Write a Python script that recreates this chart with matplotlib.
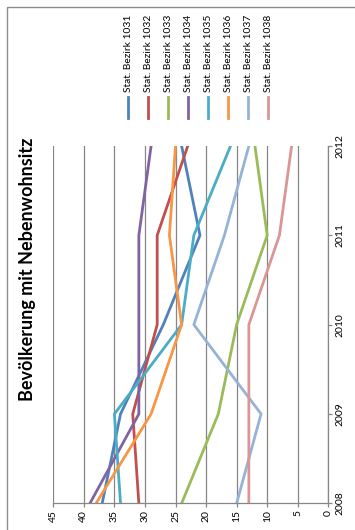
import matplotlib
matplotlib.use("Agg")
import matplotlib.pyplot as plt
from matplotlib.lines import Line2D
from matplotlib.patches import Rectangle

W, H = 355, 530

years = [2008, 2009, 2010, 2011, 2012]
series_names = ["Stat. Bezirk 1031", "Stat. Bezirk 1032", "Stat. Bezirk 1033",
                "Stat. Bezirk 1034", "Stat. Bezirk 1035", "Stat. Bezirk 1036",
                "Stat. Bezirk 1037", "Stat. Bezirk 1038"]
colors = ["#4F81BD", "#C0504D", "#9BBB59", "#8064A2", "#4BACC6", "#F79646",
          "#95B3D7", "#D99694"]
b1031 = [37, 34, 27, 21, 24]
b1032 = [31, 32, 28, 28, 23]
b1033 = [24, 18, 15, 10, 12]
b1034 = [39, 31, 31, 31, 29]
b1035 = [34, 35, 24, 22, 16]
b1036 = [38, 29, 24, 26, 25]
b1037 = [15, 11, 22, 17, 13]
b1038 = [13, 13, 13, 8, 6]
series = [b1031, b1032, b1033, b1034, b1035, b1036, b1037, b1038]
value_ticks = [0, 5, 10, 15, 20, 25, 30, 35, 40, 45]
title = "Bevölkerung mit Nebenwohnsitz"

FONT = ["Lato", "DejaVu Sans"]
plt.rcParams["font.family"] = FONT

fig = plt.figure(figsize=(W / 100, H / 100), dpi=100)


def fx(px):
    return px / W


def fy(py):
    return 1 - py / H


# chart border (cut off at right/bottom)
fig.add_artist(Rectangle((fx(7), fy(540)), fx(360), fy(7) - fy(540),
                         transform=fig.transFigure, fill=False,
                         edgecolor="#8c8c8c", lw=1.0))

left, right, top, bottom = 53.3, 328.3, 146, 503.3
ax = fig.add_axes([fx(left), fy(bottom), fx(right - left), fy(top) - fy(bottom)])

for vals, c in zip(series, colors):
    ax.plot(vals, years, color=c, lw=2.0, solid_joinstyle="miter")

ax.set_xlim(45, 0)
ax.set_ylim(2008, 2012)
ax.set_xticks(value_ticks)
ax.set_xticklabels([str(v) for v in value_ticks], rotation=90, fontsize=7.5)
ax.set_yticks(years)
ax.yaxis.tick_right()
ax.set_yticklabels([str(y) for y in years], rotation=90, va="center", fontsize=7.5)
ax.grid(axis="x", color="#868686", lw=0.9)
ax.set_axisbelow(True)
for s in ["top", "left"]:
    ax.spines[s].set_visible(False)
for s in ["bottom", "right"]:
    ax.spines[s].set_color("#868686")
    ax.spines[s].set_linewidth(0.9)
ax.tick_params(axis="both", color="#868686", length=3, width=0.9, pad=2)
ax.set_facecolor("none")

# title
fig.text(fx(28), fy(269), title, rotation=90, ha="center", va="center",
         fontsize=13, fontweight="bold")

# legend
for i, (name, c) in enumerate(zip(series_names, colors)):
    x = 128.3 + i * 20.0
    fig.add_artist(Line2D([fx(x), fx(x)], [fy(97), fy(118)],
                          transform=fig.transFigure, color=c, lw=2.0))
    fig.text(fx(x + 0.5), fy(92), name, rotation=90, ha="center", va="bottom",
             fontsize=7.4)

fig.savefig("out.png", dpi=100)
